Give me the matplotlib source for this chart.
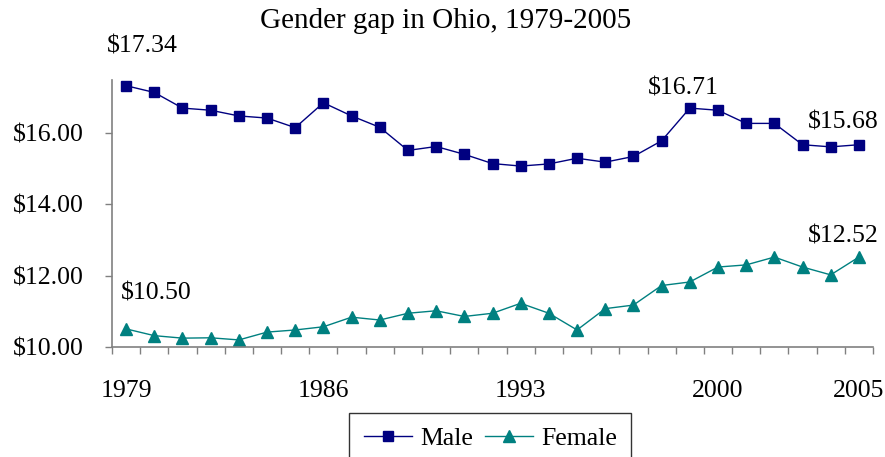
import numpy as np
import matplotlib.pyplot as plt

plt.rcParams['font.family'] = ['Liberation Serif', 'DejaVu Serif']

# data
years = list(range(1979, 2006))
male = [17.34, 17.15, 16.71, 16.65, 16.49, 16.43, 16.16, 16.86, 16.49, 16.17,
        15.52, 15.63, 15.41, 15.15, 15.08, 15.14, 15.30, 15.19, 15.35, 15.79,
        16.71, 16.65, 16.28, 16.28, 15.68, 15.62, 15.68]
female = [10.50, 10.31, 10.24, 10.25, 10.19, 10.41, 10.47, 10.56, 10.83, 10.75,
          10.94, 11.01, 10.85, 10.94, 11.22, 10.94, 10.47, 11.07, 11.17, 11.72,
          11.82, 12.24, 12.30, 12.52, 12.24, 12.02, 12.52]
label_years = [1979, 1986, 1993, 2000, 2005]
y_ticks = [10, 12, 14, 16]

x = np.arange(len(years))

fig = plt.figure(figsize=(8.85, 4.57), dpi=100)
ax = fig.add_axes([0.1266, 0.2414, 0.8598, 0.5835])

ax.plot(x, male, color='#000080', lw=1, marker='s', ms=7, label='Male')
ax.plot(x, female, color='#008080', lw=1, marker='^', ms=8.5, label='Female')

ax.set_xlim(-0.5, len(years) - 0.5)
ax.set_ylim(10, 17.5)

# category axis: ticks between categories, labels on selected years
ax.set_xticks(np.arange(-0.5, len(years)), minor=True)
ax.set_xticks([years.index(y) for y in label_years])
ax.set_xticklabels([str(y) for y in label_years], fontsize=18.5)
ax.tick_params(axis='x', which='major', length=0, pad=24)
ax.tick_params(axis='x', which='minor', length=5, color='#808080', width=1)

ax.set_yticks(y_ticks)
ax.set_yticklabels(['$%.2f' % v for v in y_ticks], fontsize=18.5)
ax.tick_params(axis='y', length=5, color='#808080', width=1, pad=15.5)

for s in ['top', 'right']:
    ax.spines[s].set_visible(False)
for s in ['left', 'bottom']:
    ax.spines[s].set_color('#808080')
    ax.spines[s].set_linewidth(1.2)

# value labels
def lab(i, vals, dx, dy):
    ax.annotate('$%.2f' % vals[i], xy=(i, vals[i]), xytext=(dx, dy),
                textcoords='offset pixels', ha='center', va='center', fontsize=18.5)

lab(0, male, 16, 39)
lab(years.index(1999), male, -6, 20)
lab(26, male, -16, 22)
lab(26, female, -16, 21)
lab(0, female, 30, 35)

fig.text(0.503, 0.955, 'Gender gap in Ohio, 1979-2005', ha='center', va='center',
         fontsize=21)

leg = fig.legend(loc='upper center', bbox_to_anchor=(0.554, 0.096), ncol=2,
                 fontsize=18.5, frameon=True, fancybox=False, handlelength=1.9,
                 columnspacing=0.45, handletextpad=0.3, borderpad=0.55,
                 borderaxespad=0)
leg.get_frame().set_edgecolor('black')
leg.get_frame().set_linewidth(1)

fig.savefig('out.png', dpi=100)
